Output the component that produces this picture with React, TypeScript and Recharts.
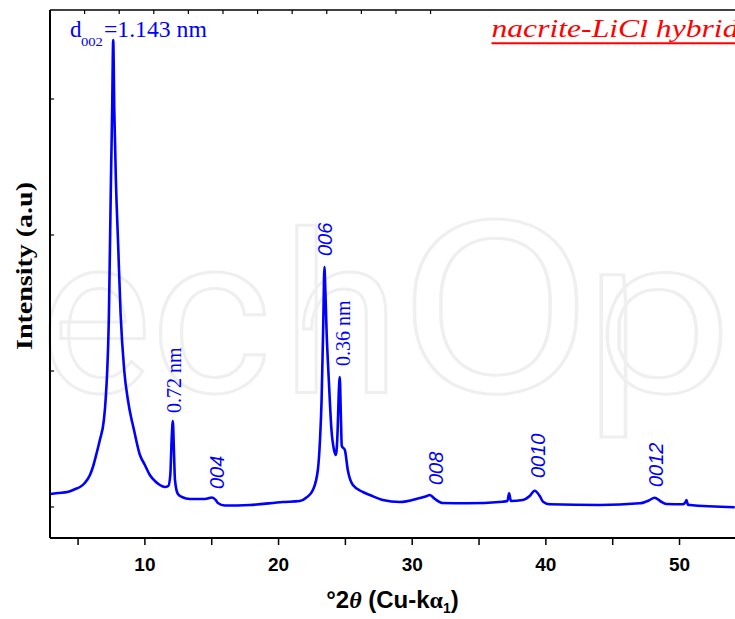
import React from 'react';
import { LineChart, Line, XAxis, YAxis, ReferenceDot } from 'recharts';

// 2θ (degrees) and intensity (arbitrary units)
const twoTheta = [
  2.9, 3.5, 4.2, 4.8, 5.14, 5.5, 5.89, 6.11, 6.41, 6.63, 6.93, 7.06, 7.31, 7.46, 7.55, 7.63,
  7.71, 7.83, 8.0, 8.18, 8.45, 8.73, 9.01, 9.1, 9.63, 10.0, 10.37, 10.75, 11.12, 11.5, 11.75,
  11.9, 12.0, 12.09, 12.17, 12.25, 12.47, 12.77, 13.37, 14.49, 15.01, 15.3, 15.46, 15.98, 17.85,
  20.32, 21.59, 22.09, 22.57, 22.94, 23.1, 23.22, 23.35, 23.43, 23.5, 23.59, 23.76, 23.96, 24.15,
  24.29, 24.42, 24.5, 24.58, 24.66, 24.73, 24.96, 25.18, 25.56, 26.31, 26.83, 27.8, 29.07, 30.57,
  31.0, 31.32, 31.7, 32.29, 34.08, 36.77, 37.12, 37.25, 37.38, 38.27, 38.79, 39.17, 39.54, 39.79,
  40.29, 44.03, 47.02, 47.7, 48.14, 48.55, 49.02, 50.24, 50.45, 50.52, 50.62, 50.76, 54.13,
];
const intensity = [
  44, 45, 46, 49, 51, 55, 63, 71, 86, 98, 118, 138, 225, 358, 428, 498,
  428, 358, 293, 225, 168, 138, 118, 113, 83, 73, 63, 57, 53, 51, 52,
  63, 98, 117, 88, 58, 44, 41, 39, 39, 40.5, 38, 35, 32.5, 33,
  36, 37, 40.5, 48, 68, 98, 138, 218, 271, 248, 208, 158, 108, 88,
  83, 108, 143, 161, 123, 92, 88, 68, 53, 46, 43, 38, 36, 40,
  41.5, 43, 39, 35, 34.7, 36.3, 37, 44.7, 37, 38, 42, 47.3, 42, 36.3,
  33.7, 33, 34.7, 37.5, 40.3, 37, 34, 33.7, 36, 38, 33.5, 33, 30.7,
];

const xTicks = [5, 10, 15, 20, 25, 30, 35, 40, 45, 50, 55];
const xLabelledTicks = [10, 20, 30, 40, 50];
const yTicks = [31, 167, 303, 439];

// peak annotations (anchor = start of the vertical text)
const noteText = ['0.72 nm', '004', '006', '0.36 nm', '008', '0010', '0012'];
const noteTheta = [12.69, 15.91, 24.02, 25.33, 32.29, 39.92, 48.74];
const noteValue = [125, 49, 282, 172, 53, 60, 51];
const noteSerif = [true, false, false, true, false, false, false];

const spacingTheta = 4.39;
const spacingValue = 501.3;
const titleTheta = 35.93;
const titleValue = 501.3;

// background watermark letters
const watermarkLetters = ['e', 'c', 'h', 'O', 'p'];
const watermarkX = [40, 150, 282, 398, 583];
const watermarkSize = [222, 222, 222, 240, 222];
const watermarkLen = [112, 122, 118, 195, 150];

const data = twoTheta.map((t, i) => ({ t, v: intensity[i] }));

const BLUE = '#0000ff';
const SERIF = '"Liberation Serif", "Times New Roman", serif';
const SANS = '"Liberation Sans", Arial, sans-serif';

const EmptyTick = () => <g />;

const BottomTick = (props: any) => {
  const { x, y, payload } = props;
  if (!xLabelledTicks.includes(payload.value)) return <g />;
  return (
    <text x={x} y={y + 24} textAnchor="middle" fontFamily={SANS} fontWeight="bold" fontSize={19} fill="#000">
      {payload.value}
    </text>
  );
};

const makeNote = (i: number) => (props: any) => {
  const { cx, cy } = props;
  return (
    <text
      x={cx}
      y={cy}
      transform={`rotate(-90 ${cx} ${cy})`}
      fontFamily={noteSerif[i] ? SERIF : SANS}
      fontStyle={noteSerif[i] ? 'normal' : 'italic'}
      fontSize={20}
      fill={BLUE}
    >
      {noteText[i]}
    </text>
  );
};

const SpacingNote = (props: any) => {
  const { cx, cy } = props;
  return (
    <g fill={BLUE} fontFamily={SERIF}>
      <text x={cx} y={cy} fontSize={23}>d</text>
      <text x={cx + 11} y={cy + 9.3} fontSize={13} textLength={22} lengthAdjust="spacingAndGlyphs">002</text>
      <text x={cx + 34} y={cy} fontSize={23} textLength={103} lengthAdjust="spacingAndGlyphs">=1.143 nm</text>
    </g>
  );
};

const TitleNote = (props: any) => {
  const { cx, cy } = props;
  return (
    <g>
      <text x={cx} y={cy} fontFamily={SERIF} fontStyle="italic" fontSize={25} fill="#ff0000" textLength={247} lengthAdjust="spacingAndGlyphs">
        nacrite-LiCl hybrid
      </text>
      <line x1={cx} x2={cx + 270} y1={cy + 6.6} y2={cy + 6.6} stroke="#ff0000" strokeWidth={2} />
    </g>
  );
};

const XTitle = (props: any) => {
  const vb = props.viewBox || {};
  const x = vb.x + vb.width / 2;
  const y = vb.y + 70;
  return (
    <text x={x} y={y} textAnchor="middle" fontFamily={SANS} fontWeight="bold" fontSize={24} fill="#000">
      <tspan>°2</tspan>
      <tspan fontFamily={SERIF} fontStyle="italic">θ</tspan>
      <tspan> (Cu-k</tspan>
      <tspan fontFamily={SERIF}>α</tspan>
      <tspan fontSize={14} dy={5}>1</tspan>
      <tspan dy={-5}>)</tspan>
    </text>
  );
};

const YTitle = (props: any) => {
  const vb = props.viewBox || {};
  const x = vb.x + vb.width - 18;
  const y = vb.y + vb.height / 2 - 8;
  return (
    <text
      x={x}
      y={y}
      transform={`rotate(-90 ${x} ${y})`}
      textAnchor="middle"
      fontFamily={SERIF}
      fontWeight="bold"
      fontSize={24}
      fill="#000"
      textLength={168}
      lengthAdjust="spacingAndGlyphs"
    >
      Intensity (a.u)
    </text>
  );
};

export default function App() {
  return (
    <div style={{ position: 'fixed', left: 0, top: 0, width: 735, height: 619, overflow: 'hidden', background: '#fff' }}>
      <svg width={735} height={619} style={{ position: 'absolute', left: 0, top: 0 }}>
        {watermarkLetters.map((ch, i) => (
          <text
            key={i}
            x={watermarkX[i]}
            y={392}
            fontFamily="Roboto, sans-serif"
            fontSize={watermarkSize[i]}
            textLength={watermarkLen[i]}
            lengthAdjust="spacingAndGlyphs"
            fill="none"
            stroke="#efefef"
            strokeWidth={3}
          >
            {ch}
          </text>
        ))}
      </svg>
      <div style={{ position: 'absolute', left: 0, top: 0 }}>
        <LineChart width={735} height={619} data={data} margin={{ top: 9, right: 0, bottom: 80, left: 49 }}>
          <XAxis
            dataKey="t"
            type="number"
            domain={[2.9, 54.15]}
            allowDataOverflow
            ticks={xTicks}
            interval={0}
            height={1}
            tickSize={7}
            tick={<BottomTick />}
            axisLine={{ stroke: '#000', strokeWidth: 2 }}
            tickLine={{ stroke: '#000', strokeWidth: 1.5 }}
            label={<XTitle />}
          />
          <XAxis
            xAxisId="top"
            orientation="top"
            type="number"
            domain={[2.9, 54.15]}
            allowDataOverflow
            ticks={xTicks}
            interval={0}
            height={1}
            tickSize={-4}
            tick={<EmptyTick />}
            axisLine={{ stroke: '#000', strokeWidth: 1.5 }}
            tickLine={{ stroke: '#000', strokeWidth: 1.2 }}
          />
          <YAxis
            type="number"
            domain={[0, 528]}
            allowDataOverflow
            ticks={yTicks}
            interval={0}
            width={1}
            tickSize={-4}
            tick={<EmptyTick />}
            axisLine={{ stroke: '#000', strokeWidth: 2 }}
            tickLine={{ stroke: '#000', strokeWidth: 1.2 }}
            label={<YTitle />}
          />
          <Line
            dataKey="v"
            type="monotone"
            stroke={BLUE}
            strokeWidth={2.6}
            dot={false}
            isAnimationActive={false}
          />
          {noteText.map((_, i) => (
            <ReferenceDot key={i} x={noteTheta[i]} y={noteValue[i]} r={0} shape={makeNote(i)} ifOverflow="visible" />
          ))}
          <ReferenceDot x={spacingTheta} y={spacingValue} r={0} shape={SpacingNote} ifOverflow="visible" />
          <ReferenceDot x={titleTheta} y={titleValue} r={0} shape={TitleNote} ifOverflow="visible" />
        </LineChart>
      </div>
    </div>
  );
}
